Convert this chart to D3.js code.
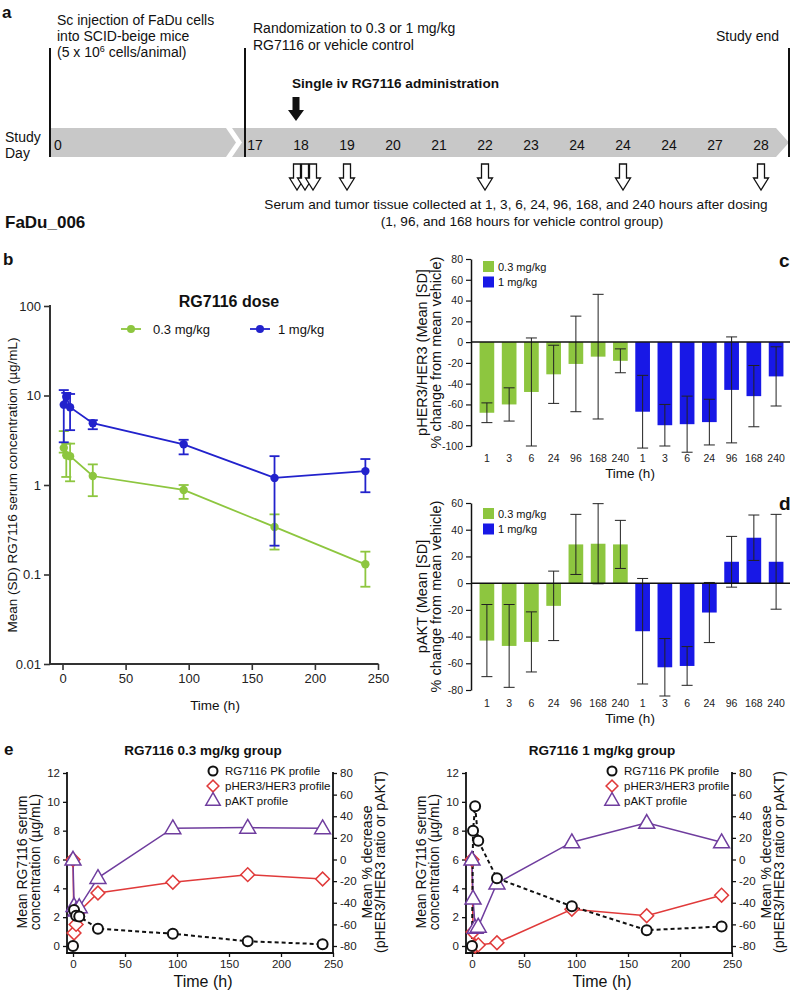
<!DOCTYPE html>
<html><head><meta charset="utf-8">
<script src="https://cdn.jsdelivr.net/npm/d3@7"></script>
<style>
body{margin:0;background:#fff}
svg{font-family:"Liberation Sans",Arial,Helvetica,sans-serif}
</style>
</head><body>
<svg id="fig" width="796" height="991"></svg>
<script>
// ================= DATA =================
// Panel a
const studyDays = ["17","18","19","20","21","22","23","24","24","24","27","28"];
const sampleDayIndex = [1,1,1,2,5,8,11];       // day index of each sampling arrow (1,3,6,24,96,168,240 h)
const textA1 = ["Sc injection of FaDu cells","into SCID-beige mice"];
const textA2 = ["Randomization to 0.3 or 1 mg/kg","RG7116 or vehicle control"];
const textA3 = ["Serum and tumor tissue collected at 1, 3, 6, 24, 96, 168, and 240 hours after dosing",
                "(1, 96, and 168 hours for vehicle control group)"];
// Panel b (PK, mean and SD range)
const pkTimes  = [1,3,6,24,96,168,240];
const pk03Mean = [2.6,2.15,2.1,1.26,0.88,0.34,0.13];
const pk03Lo   = [2.3,1.23,1.1,0.75,0.70,0.19,0.073];
const pk03Hi   = [4.0,2.9,2.9,1.7,1.0,0.47,0.18];
const pk1Mean  = [7.9,9.7,7.4,4.9,2.85,1.2,1.43];
const pk1Lo    = [3.0,7.6,4.1,4.2,2.2,0.21,0.83];
const pk1Hi    = [11.5,10.7,10.4,5.3,3.2,2.1,1.95];
const logTicks = [0.01,0.1,1,10,100];
const timeTicks = [0,50,100,150,200,250];
// Panels c, d
const barTimes = ["1","3","6","24","96","168","240"];
const pher03Mean = [-68,-60,-48,-31,-21,-14,-18];
const pher03SD   = [9.5,16,52,28,46,60,11.5];
const pher1Mean  = [-67,-80,-79,-77,-46,-52,-33];
const pher1SD    = [35,20,27,22,51,29.5,28.5];
const pakt03Mean = [-43,-47,-44,-17,29,29.5,29];
const pakt03SD   = [27,31,22.5,26,22.5,30,18];
const pakt1Mean  = [-36,-63,-62,-22,16,34,16];
const pakt1SD    = [39.5,21.5,14.5,22.5,19,17,35.5];
const cTicks = [-100,-80,-60,-40,-20,0,20,40,60,80];
const dTicks = [-80,-60,-40,-20,0,20,40,60];
// Panel e
const eTimes = [0,1,3,6,24,96,168,240];
const ePk03   = [0,2.5,2.1,2.05,1.2,0.85,0.33,0.12];
const ePher03 = [0,-68,-60,-48,-31,-21,-14,-18];
const ePakt03 = [0,-43,-47,-44,-17,29,29.5,29];
const ePk1    = [0,8.0,9.7,7.3,4.7,2.75,1.1,1.35];
const ePher1  = [0,-67,-80,-79,-77,-46,-52,-33];
const ePakt1  = [0,-36,-63,-62,-22,16,34,16];
const eLeftTicks  = [0,2,4,6,8,10,12];
const eRightTicks = [-80,-60,-40,-20,0,20,40,60,80];
const eLegend = ["RG7116 PK profile","pHER3/HER3 profile","pAKT profile"];
const doseLabels = ["0.3 mg/kg","1 mg/kg"];

// ================= STYLE =================
const GREEN = "#8dc63f", BLUE = "#1818e6", LBLUE = "#2222cc", RED = "#e03a3a", PURPLE = "#6f3d9e";
const svg = d3.select("#fig");

function txt(g, x, y, s, opt={}) {
  const t = g.append("text").attr("x", x).attr("y", y).text(s)
    .attr("font-size", opt.size || 13).attr("fill", opt.fill || "#111")
    .attr("text-anchor", opt.anchor || "start");
  if (opt.bold) t.attr("font-weight", "bold");
  return t;
}
function vtxt(g, x, y, s, size) {
  return g.append("text").attr("transform", `translate(${x},${y}) rotate(-90)`)
    .attr("text-anchor", "middle").attr("font-size", size).attr("fill", "#111").text(s);
}
function line(g, x1, y1, x2, y2, w, c) {
  g.append("line").attr("x1", x1).attr("y1", y1).attr("x2", x2).attr("y2", y2)
    .attr("stroke", c || "#111").attr("stroke-width", w || 1);
}

// ================= PANEL A =================
const gA = svg.append("g");
txt(gA, 2, 18, "a", {size: 17, bold: true});
const dayX = d3.scaleLinear().domain([0, studyDays.length - 1]).range([255, 761]);
gA.append("path").attr("d", "M50,128H226L236,142.5L226,157H50Z").attr("fill", "#c8c8c8");
gA.append("path").attr("d", "M232,128H776L789,142.5L776,157H232L242,142.5Z").attr("fill", "#c8c8c8");
[50, 245, 789].forEach(x => line(gA, x, 48, x, 157, 2, "#111"));
txt(gA, 5, 142, "Study", {size: 14});
txt(gA, 5, 158, "Day", {size: 14});
txt(gA, 58, 150, "0", {size: 14, anchor: "middle"});
studyDays.forEach((d, i) => txt(gA, dayX(i), 150, d, {size: 14, anchor: "middle"}));
textA1.forEach((s, i) => txt(gA, 57, 25 + i * 16, s, {size: 14}));
const t3 = txt(gA, 57, 57, "(5 x 10", {size: 14});
t3.append("tspan").attr("font-size", 9).attr("dy", -5).text("6");
t3.append("tspan").attr("dy", 5).text(" cells/animal)");
textA2.forEach((s, i) => txt(gA, 253, 33 + i * 17, s, {size: 14}));
txt(gA, 716, 41, "Study end", {size: 14});
txt(gA, 292, 88, "Single iv RG7116 administration", {size: 13.6, bold: true});
// filled dosing arrow
const ax = dayX(1) - 5;
gA.append("path").attr("d", `M${ax-3.5},97H${ax+3.5}V110H${ax+8}L${ax},121L${ax-8},110H${ax-3.5}Z`).attr("fill", "#111");
// hollow sampling arrows
let clusterCount = 0;
sampleDayIndex.forEach((di, k) => {
  let cx = dayX(di);
  if (di === 1) { cx = dayX(di) - 4 + clusterCount * 8; clusterCount++; }
  gA.append("path")
    .attr("d", `M${cx-3.5},164H${cx+3.5}V178H${cx+7.5}L${cx},190L${cx-7.5},178H${cx-3.5}Z`)
    .attr("fill", "#fff").attr("stroke", "#111").attr("stroke-width", 1.3);
});
txt(gA, 516, 209, textA3[0], {size: 13.6, anchor: "middle"});
txt(gA, 522, 226, textA3[1], {size: 13.6, anchor: "middle"});
txt(gA, 5, 228, "FaDu_006", {size: 17, bold: true});

// ================= PANEL B =================
const gB = svg.append("g");
txt(gB, 3, 265, "b", {size: 17, bold: true});
const xB = d3.scaleLinear().domain([0, 250]).range([62.5, 378]);
const yB = d3.scaleLog().domain([0.01, 100]).range([664, 306]);
const axB = gB.append("g").attr("transform", "translate(50,0)")
  .call(d3.axisLeft(yB).tickValues(logTicks).tickFormat(d => String(d)).tickSize(6).tickSizeOuter(0));
const axBx = gB.append("g").attr("transform", "translate(0,664)")
  .call(d3.axisBottom(xB).tickValues(timeTicks).tickSize(6).tickSizeOuter(0).tickPadding(4));
[axB, axBx].forEach(a => {
  a.select(".domain").remove();
  a.selectAll("line").attr("stroke", "#333").attr("stroke-width", 1.6);
  a.selectAll("text").attr("font-size", 13).attr("fill", "#222").attr("font-family", null);
});
line(gB, 50, 305, 50, 665, 2, "#333");
line(gB, 49, 664, 378.5, 664, 2, "#333");
vtxt(gB, 17, 485, "Mean (SD) RG7116 serum concentration (\u00b5g/mL)", 13.5);
txt(gB, 215, 710, "Time (h)", {size: 13.5, anchor: "middle"});
txt(gB, 229, 307, "RG7116 dose", {size: 16, bold: true, anchor: "middle"});
[[GREEN, 131, doseLabels[0], 153], [LBLUE, 260, doseLabels[1], 278]].forEach(([c, cx, lab, tx]) => {
  line(gB, cx - 10, 329, cx + 10, 329, 1.8, c);
  gB.append("circle").attr("cx", cx).attr("cy", 329).attr("r", 4).attr("fill", c);
  txt(gB, tx, 334, lab, {size: 13});
});
function pkSeries(mean, lo, hi, color) {
  const pts = pkTimes.map((t, i) => ({t, m: mean[i], lo: lo[i], hi: hi[i]}));
  gB.append("path").datum(pts)
    .attr("d", d3.line().x(d => xB(d.t)).y(d => yB(d.m)))
    .attr("fill", "none").attr("stroke", color).attr("stroke-width", 1.8);
  const e = gB.append("g");
  pts.forEach(d => {
    line(e, xB(d.t), yB(d.lo), xB(d.t), yB(d.hi), 1.8, color);
    line(e, xB(d.t) - 5, yB(d.lo), xB(d.t) + 5, yB(d.lo), 1.8, color);
    line(e, xB(d.t) - 5, yB(d.hi), xB(d.t) + 5, yB(d.hi), 1.8, color);
  });
  gB.selectAll(null).data(pts).enter().append("circle")
    .attr("cx", d => xB(d.t)).attr("cy", d => yB(d.m)).attr("r", 4.2).attr("fill", color);
}
pkSeries(pk03Mean, pk03Lo, pk03Hi, GREEN);
pkSeries(pk1Mean, pk1Lo, pk1Hi, LBLUE);

// ================= PANELS C, D =================
function barPanel(letter, letterY, yDom, yRange, ticks, m03, sd03, m1, sd1, yLab1, yLab2, legY, timeY) {
  const g = svg.append("g");
  const cats = d3.range(14);
  const x = d3.scaleBand().domain(cats).range([472, 791]).padding(0.34);
  const y = d3.scaleLinear().domain(yDom).range(yRange);
  const means = m03.concat(m1), sds = sd03.concat(sd1);
  const colors = cats.map(i => i < 7 ? GREEN : BLUE);
  g.selectAll(null).data(cats).enter().append("rect")
    .attr("x", i => x(i)).attr("width", x.bandwidth())
    .attr("y", i => y(Math.max(0, means[i]))).attr("height", i => Math.abs(y(means[i]) - y(0)))
    .attr("fill", i => colors[i]);
  cats.forEach(i => {
    const cx = x(i) + x.bandwidth() / 2;
    const hi = y(means[i] + sds[i]), lo = y(means[i] - sds[i]);
    line(g, cx, hi, cx, lo, 1, "#222");
    line(g, cx - 5.5, hi, cx + 5.5, hi, 1, "#222");
    line(g, cx - 5.5, lo, cx + 5.5, lo, 1, "#222");
  });
  const ay = g.append("g").attr("transform", "translate(471,0)")
    .call(d3.axisLeft(y).tickValues(ticks).tickSize(5).tickSizeOuter(0).tickPadding(3).tickFormat(d3.format("d")));
  ay.select(".domain").attr("stroke", "#111").attr("stroke-width", 1.5);
  ay.selectAll("line").attr("stroke", "#111").attr("stroke-width", 1.2);
  ay.selectAll("text").attr("font-size", 10.5).attr("fill", "#222").attr("font-family", null)
    .text(d => d < 0 ? "-" + Math.abs(d) : d);
  line(g, 471, y(0), 790, y(0), 1.5, "#111");
  const axx = g.append("g").attr("transform", `translate(0,${yRange[0]})`)
    .call(d3.axisBottom(x).tickSize(0).tickPadding(timeY - yRange[0] - 7.5).tickFormat(i => barTimes[i % 7]));
  axx.select(".domain").remove();
  axx.selectAll("text").attr("font-size", 10.5).attr("fill", "#222").attr("font-family", null);
  txt(g, 630, timeY + 16, "Time (h)", {size: 13.5, anchor: "middle"});
  const cy = (yRange[0] + yRange[1]) / 2;
  vtxt(g, 427, cy, yLab1, 14.5);
  vtxt(g, 441, cy, yLab2, 14.5);
  txt(g, 779, letterY, letter, {size: 19, bold: true});
  [[GREEN, doseLabels[0]], [BLUE, doseLabels[1]]].forEach(([c, lab], k) => {
    g.append("rect").attr("x", 483).attr("y", legY + k * 15.5).attr("width", 11).attr("height", 11).attr("fill", c);
    txt(g, 498, legY + k * 15.5 + 9.5, lab, {size: 11});
  });
}
barPanel("c", 267, [-100, 80], [446, 259], cTicks, pher03Mean, pher03SD, pher1Mean, pher1SD,
  "pHER3/HER3 (Mean [SD]", "% change  from mean vehicle)", 261, 462);
barPanel("d", 510, [-80, 60], [690, 503], dTicks, pakt03Mean, pakt03SD, pakt1Mean, pakt1SD,
  "pAKT (Mean [SD]", "% change  from mean vehicle)", 508, 707);

// ================= PANEL E =================
txt(svg, 4, 755, "e", {size: 17, bold: true});
function ePanel(ox, title, pk, pher, pakt) {
  const g = svg.append("g");
  const x = d3.scaleLinear().domain([0, 250]).range([ox + 73, ox + 333]);
  const yl = d3.scaleLinear().domain([0, 12]).range([946, 773]);
  const yr = d3.scaleLinear().domain([-80, 80]).range([946, 773]);
  const axL = g.append("g").attr("transform", `translate(${ox + 67},0)`)
    .call(d3.axisLeft(yl).tickValues(eLeftTicks).tickSize(4).tickSizeOuter(0).tickPadding(3));
  const axR = g.append("g").attr("transform", `translate(${ox + 333},0)`)
    .call(d3.axisRight(yr).tickValues(eRightTicks).tickSize(4).tickSizeOuter(0).tickPadding(3)
      .tickFormat(d => d < 0 ? "-" + Math.abs(d) : d));
  const axX = g.append("g").attr("transform", "translate(0,953)")
    .call(d3.axisBottom(x).tickValues(timeTicks).tickSize(4).tickSizeOuter(0).tickPadding(3));
  [axL, axR, axX].forEach(a => {
    a.select(".domain").remove();
    a.selectAll("line").attr("stroke", "#111").attr("stroke-width", 1.3);
    a.selectAll("text").attr("font-size", 11.5).attr("fill", "#222").attr("font-family", null);
  });
  line(g, ox + 67, 772, ox + 67, 953.8, 1.8, "#111");
  line(g, ox + 333, 772, ox + 333, 953.8, 1.8, "#111");
  line(g, ox + 66.1, 953, ox + 333.9, 953, 1.8, "#111");
  txt(g, ox + 203, 755, title, {size: 13.5, bold: true, anchor: "middle"});
  txt(g, ox + 203, 987, "Time (h)", {size: 16, anchor: "middle"});
  vtxt(g, ox + 27, 862, "Mean RG7116 serum", 14);
  vtxt(g, ox + 40, 862, "concentration (\u00b5g/mL)", 14);
  vtxt(g, ox + 372, 862, "Mean % decrease", 14);
  vtxt(g, ox + 385, 862, "(pHER3/HER3 ratio or pAKT)", 14);
  const diamond = d3.symbol(d3.symbolSquare, 95);
  const tri = d3.symbol(d3.symbolTriangle, 110);
  // pHER3
  g.append("path").datum(eTimes.map((t, i) => [t, pher[i]]))
    .attr("d", d3.line().x(d => x(d[0])).y(d => yr(d[1])))
    .attr("fill", "none").attr("stroke", RED).attr("stroke-width", 1.5);
  // pAKT
  g.append("path").datum(eTimes.map((t, i) => [t, pakt[i]]))
    .attr("d", d3.line().x(d => x(d[0])).y(d => yr(d[1])))
    .attr("fill", "none").attr("stroke", PURPLE).attr("stroke-width", 1.5);
  // PK
  g.append("path").datum(eTimes.map((t, i) => [t, pk[i]]))
    .attr("d", d3.line().x(d => x(d[0])).y(d => yl(d[1])))
    .attr("fill", "none").attr("stroke", "#111").attr("stroke-width", 2).attr("stroke-dasharray", "4,3");
  eTimes.forEach((t, i) => {
    g.append("path").attr("d", diamond()).attr("transform", `translate(${x(t)},${yr(pher[i])}) rotate(45)`)
      .attr("fill", "#fff").attr("stroke", RED).attr("stroke-width", 1.5);
  });
  eTimes.forEach((t, i) => {
    g.append("path").attr("d", tri()).attr("transform", `translate(${x(t)},${yr(pakt[i]) + 1})`)
      .attr("fill", "#fff").attr("stroke", PURPLE).attr("stroke-width", 1.5);
  });
  eTimes.forEach((t, i) => {
    g.append("circle").attr("cx", x(t)).attr("cy", yl(pk[i])).attr("r", 5)
      .attr("fill", "#fff").attr("stroke", "#111").attr("stroke-width", 2);
  });
  // legend
  const lx = ox + 213;
  g.append("circle").attr("cx", lx).attr("cy", 771).attr("r", 4.5).attr("fill", "#fff").attr("stroke", "#111").attr("stroke-width", 2);
  g.append("path").attr("d", d3.symbol(d3.symbolSquare, 70)()).attr("transform", `translate(${lx},786) rotate(45)`)
    .attr("fill", "#fff").attr("stroke", RED).attr("stroke-width", 1.5);
  g.append("path").attr("d", d3.symbol(d3.symbolTriangle, 90)()).attr("transform", `translate(${lx},801)`)
    .attr("fill", "#fff").attr("stroke", PURPLE).attr("stroke-width", 1.5);
  eLegend.forEach((s, k) => txt(g, lx + 12, 775 + k * 15, s, {size: 11.5}));
}
ePanel(0, "RG7116 0.3 mg/kg group", ePk03, ePher03, ePakt03);
ePanel(399, "RG7116 1 mg/kg group", ePk1, ePher1, ePakt1);
</script>
</body></html>
